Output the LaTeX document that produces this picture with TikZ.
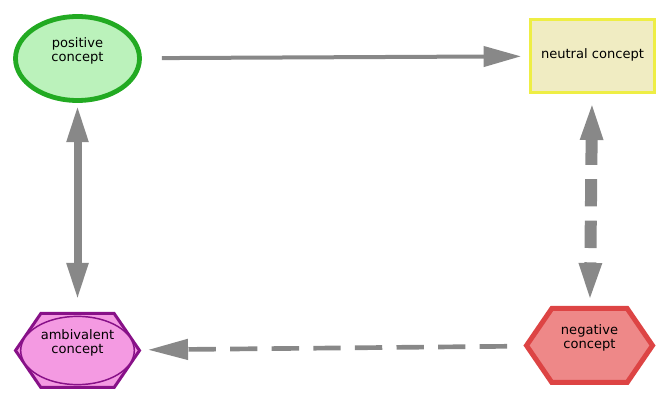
\documentclass[tikz,border=0pt]{standalone}
\usepackage{fontspec}
\setmainfont{DejaVu Sans}
\usetikzlibrary{arrows.meta,shapes.geometric,backgrounds}

\definecolor{posline}{HTML}{22AA22}
\definecolor{posfill}{HTML}{BBF2BB}
\definecolor{neuline}{HTML}{EEEE44}
\definecolor{neufill}{HTML}{F0ECC2}
\definecolor{ambline}{HTML}{881188}
\definecolor{ambfill}{HTML}{F49AE2}
\definecolor{negline}{HTML}{DD4444}
\definecolor{negfill}{HTML}{EE8888}
\definecolor{argray}{HTML}{888888}

\newcommand{\hexa}[2]{%
  \draw[#2] (#1.west) -- ([xshift=19pt]#1.north west) -- ([xshift=-19pt]#1.north east)
    -- (#1.east) -- ([xshift=-19pt]#1.south east) -- ([xshift=19pt]#1.south west) -- cycle;}

\begin{document}
\begin{tikzpicture}[
  x=0.75pt,y=0.75pt,
  font=\fontsize{9.8}{10.5}\selectfont,
  box/.style={align=center,inner sep=0pt,text height=17.8pt,text depth=14pt},
  posbox/.style={box,ellipse,draw=posline,fill=posfill,line width=3.6pt,minimum width=93pt,minimum height=63pt},
  neubox/.style={box,rectangle,draw=neuline,fill=neufill,line width=2.25pt,minimum width=93pt,minimum height=54.75pt,text height=7.3pt,text depth=3.6pt},
  hexbox/.style={box,rectangle,outer sep=0pt,minimum width=93pt,minimum height=55.5pt},
  ar/.style={->,>={Triangle[length=28pt,width=15pt]},draw=argray},
  da/.style={dash pattern=on 20.5pt off 10.7pt}]

\useasboundingbox (0,0) rectangle (668,400);

\node[posbox] (positive) at (77.5,341.5) {positive\\concept};
\node[neubox] (neutral) at (592.5,344) {neutral concept};
\node[hexbox,text depth=13.5pt] (ambivalent) at (77.5,49.5) {ambivalent\\concept};
\node[hexbox,minimum width=94.5pt] (negative) at (589.5,54.5) {negative\\concept};

\begin{scope}[on background layer]
  \hexa{ambivalent}{draw=ambline,fill=ambfill,line width=2.25pt}
  \draw[ambline,fill=ambfill,line width=1.1pt] (ambivalent) ellipse [x radius=42.6pt,y radius=25.6pt];
  \hexa{negative}{draw=negline,fill=negfill,line width=3.75pt}
\end{scope}

\draw[ar,line width=3pt,shorten <=15pt,shorten >=6pt] (positive) -- (neutral);
\draw[ar,<->,line width=6pt,shorten <=1.5pt,shorten >=10pt] (positive) -- (ambivalent);
\draw[ar,<->,da,>={Triangle[length=30pt,width=15pt]},line width=9pt,shorten <=4.5pt,shorten >=4.1pt] (neutral) -- (negative);
\draw[ar,da,>={Triangle[length=30pt,width=15pt]},line width=3.5pt,shorten <=14.6pt,shorten >=6.4pt] (negative) -- (ambivalent);
\end{tikzpicture}
\end{document}
